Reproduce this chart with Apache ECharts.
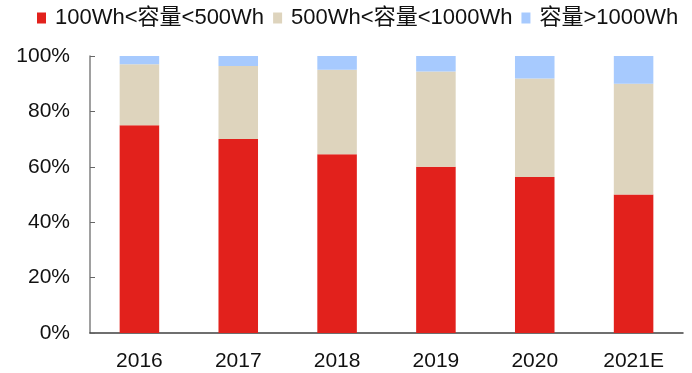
<!DOCTYPE html>
<html><head><meta charset="utf-8">
<script src="https://cdn.jsdelivr.net/npm/echarts@6/dist/echarts.min.js"></script>
<style>html,body{margin:0;padding:0;background:#fff}#c{width:692px;height:373px}</style>
</head><body><div id="c"></div>
<script>
var categories = ['2016', '2017', '2018', '2019', '2020', '2021E'];
var seriesNames = ['100Wh<容量<500Wh', '500Wh<容量<1000Wh', '容量>1000Wh'];
var small = [75, 70, 64.5, 60, 56.3, 50];
var medium = [22, 26.4, 30.5, 34.4, 35.6, 40];
var large = [3, 3.6, 5, 5.6, 8.1, 10];
var yTicks = [0, 20, 40, 60, 80, 100];

var font = '"Liberation Sans", Arial, "Noto Sans CJK SC", sans-serif';
var chart = echarts.init(document.getElementById('c'), null, {renderer: 'canvas'});
var colors = ['#E2211C', '#DED4BD', '#A7CAFE'];
function mk(name, data, i) {
  return {name: name, type: 'bar', stack: 'total', data: data, barWidth: '40%',
    itemStyle: {color: colors[i]}, emphasis: {disabled: true}};
}
chart.setOption({
  animation: false,
  textStyle: {fontFamily: font},
  legend: {
    top: 2, left: 32, itemWidth: 9, itemHeight: 11, itemGap: 9,
    icon: 'rect',
    textStyle: {fontSize: 22, color: '#111', fontFamily: font, padding: [0, 0, 0, 4]},
    data: seriesNames
  },
  grid: {left: 90, right: 9, top: 56, bottom: 40, containLabel: false},
  xAxis: {
    type: 'category', data: categories,
    axisLine: {lineStyle: {color: '#404040', width: 1.5}},
    axisTick: {inside: true, length: 5, lineStyle: {color: '#555'}},
    axisLabel: {fontSize: 21, color: '#111', margin: 18, fontFamily: font}
  },
  yAxis: {
    type: 'value', min: yTicks[0], max: yTicks[yTicks.length - 1], interval: 20,
    axisLine: {show: true, lineStyle: {color: '#808080', width: 1.5}},
    axisTick: {show: true, inside: true, length: 5, lineStyle: {color: '#666'}},
    splitLine: {show: false},
    axisLabel: {fontSize: 21, color: '#111', margin: 20, fontFamily: font,
      formatter: function (v) { return v + '%'; }}
  },
  series: [mk(seriesNames[0], small, 0), mk(seriesNames[1], medium, 1), mk(seriesNames[2], large, 2)]
});
</script></body></html>
